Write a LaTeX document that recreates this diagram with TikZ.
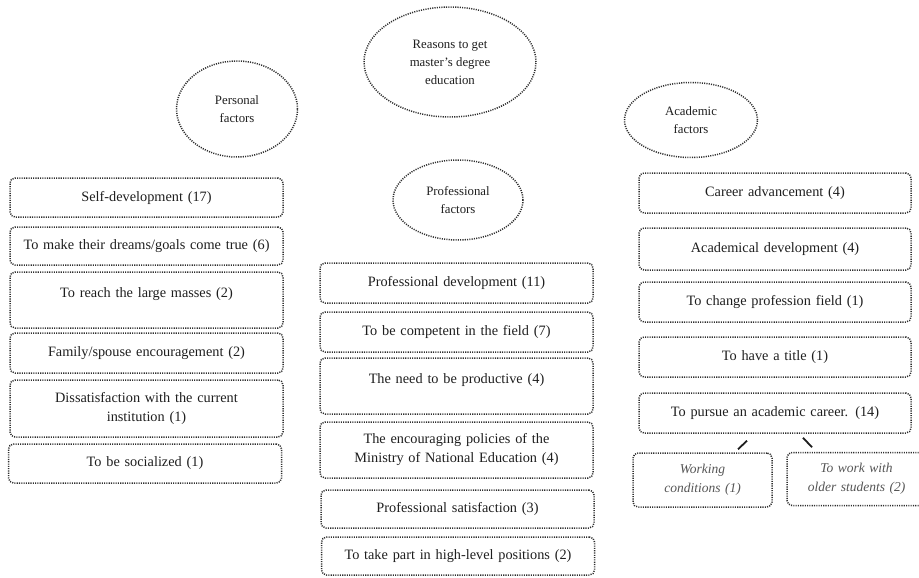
\documentclass[tikz,border=0pt]{standalone}
\usepackage{fontspec}
\setmainfont{Liberation Serif}
\usetikzlibrary{calc,shapes.geometric}

\definecolor{ink}{HTML}{1E1E1E}
\definecolor{dotline}{HTML}{2E2E2E}
\definecolor{softink}{HTML}{555555}

\tikzset{
  dotborder/.style={draw=dotline, line width=1.5pt, dash pattern=on 1.1pt off 1.2pt},
  rbox/.style={dotborder, rounded corners=5pt, inner sep=0pt, align=center,
    text=ink, font=\fontsize{14.3}{19}\selectfont},
  subbox/.style={rbox, text=softink, font=\fontsize{13.5}{19}\selectfont\itshape},
  oval/.style={dotborder, ellipse, inner sep=0pt, align=center, text=ink,
    font=\fontsize{12.8}{18}\selectfont},
  conn/.style={draw=ink, line width=1.8pt},
}

\begin{document}
\begin{tikzpicture}[x=1pt, y=-1pt]
\useasboundingbox (0,0) rectangle (919,578);

% category ellipses
\node[oval, minimum width=172pt, minimum height=110pt] (root) at (450,62)
  {Reasons to get\\master's degree\\education};
\node[oval, minimum width=121pt, minimum height=96pt] (pers) at (237,109)
  {Personal\\factors};
\node[oval, minimum width=130pt, minimum height=80pt] (prof) at (458,200)
  {Professional\\factors};
\node[oval, minimum width=133pt, minimum height=75pt] (acad) at (691,120)
  {Academic\\factors};

% personal factors column
\begin{scope}[every node/.append style={rbox, minimum width=273pt, text width=263pt}]
\node[minimum height=39pt] (L1) at (146.5,197.5) {Self-development (17)};
\node[minimum height=38pt] (L2) at (146.5,246) {To make their dreams/goals come true (6)};
\node[minimum height=56pt] (L3) at (146.5,300) {To reach the large masses (2)\\[-9pt]\strut};
\node[minimum height=40pt] (L4) at (146.5,353) {Family/spouse encouragement (2)};
\node[minimum height=57pt] (L5) at (146.5,408.5) {Dissatisfaction with the current\\institution (1)};
\node[minimum height=39pt] (L6) at (145,463.5) {To be socialized (1)};
\end{scope}

% professional factors column
\begin{scope}[every node/.append style={rbox, minimum width=273pt, text width=263pt}]
\node[minimum height=40pt] (M1) at (456.5,283) {Professional development (11)};
\node[minimum height=40pt] (M2) at (456.5,332) {To be competent in the field (7)};
\node[minimum height=56pt] (M3) at (456.5,386) {The need to be productive (4)\\[-9pt]\strut};
\node[minimum height=56pt] (M4) at (456.5,450) {The encouraging policies of the\\Ministry of National Education (4)};
\node[minimum height=38pt] (M5) at (457.5,509) {Professional satisfaction (3)};
\node[minimum height=38pt] (M6) at (458,556) {To take part in high-level positions (2)};
\end{scope}

% academic factors column
\begin{scope}[every node/.append style={rbox, minimum width=272pt, text width=262pt}]
\node[minimum height=40pt] (R1) at (775,193) {Career advancement (4)};
\node[minimum height=42pt] (R2) at (775,249) {Academical development (4)};
\node[minimum height=40pt] (R3) at (775,302) {To change profession field (1)};
\node[minimum height=40pt] (R4) at (775,357) {To have a title (1)};
\node[minimum height=40pt] (R5) at (775,413) {To pursue an academic career. (14)};
\end{scope}

% sub-reasons of an academic career
\node[subbox, minimum width=139pt, minimum height=54pt, text width=131pt] (S1) at (702.5,480)
  {Working\\conditions (1)};
\node[subbox, minimum width=139pt, minimum height=53pt, text width=131pt] (S2) at (856.5,479)
  {To work with\\older students (2)};

\draw[conn] ($(R5.south)+(-28,7)$) -- ($(S1.north)+(35.5,-3)$);
\draw[conn] ($(R5.south)+(28,4)$) -- ($(S2.north)+(-44.5,-4.5)$);
\end{tikzpicture}
\end{document}
